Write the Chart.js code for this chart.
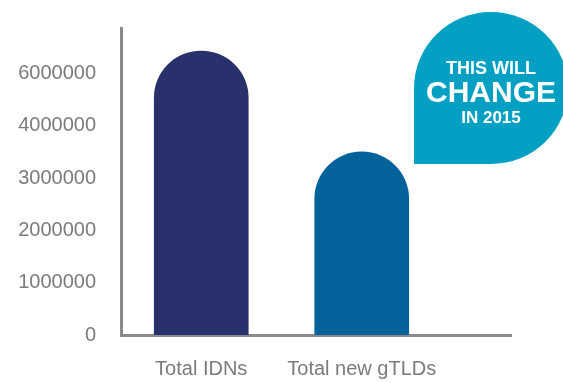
<!DOCTYPE html>
<html>
<head>
<meta charset="utf-8">
<title>IDNs vs new gTLDs</title>
<script src="https://cdn.jsdelivr.net/npm/chart.js@4"></script>
<style>
  html, body { margin: 0; padding: 0; background: #fff; overflow: hidden; }
  #wrap { position: relative; width: 563px; height: 383px; font-family: "Liberation Sans", Arial, Helvetica, sans-serif; }
  #chart { position: absolute; left: 0; top: 0; }
  /* teal speech bubble, pointed corner at bottom left */
  .bubble {
    position: absolute; left: 414px; top: 12px; width: 154px; height: 152px;
    background: #03a0c4; border-radius: 50% 50% 50% 0;
  }
  .bubble-line {
    position: absolute; left: 414px; width: 154px; text-align: center;
    color: #fff; font-weight: bold; white-space: nowrap;
  }
</style>
</head>
<body>
<div id="wrap">
  <canvas id="chart" width="563" height="383"></canvas>
  <div class="bubble"></div>
  <div class="bubble-line" style="top:59px;font-size:18px;line-height:18px;">THIS WILL</div>
  <div class="bubble-line" style="top:77px;font-size:30px;line-height:30px;">CHANGE</div>
  <div class="bubble-line" style="top:109px;font-size:17px;line-height:17px;">IN 2015</div>
</div>
<script>
/* ---------- data ---------- */
const categories = ['Total IDNs', 'Total new gTLDs'];
const totals = [5430000, 3500000];
const barColors = ['#29316d', '#03629a'];
const yTickValues = [0, 1000000, 2000000, 3000000, 4000000, 5000000];
const yTickLabels = ['0', '1000000', '2000000', '3000000', '4000000', '6000000'];

const FONT = '"Liberation Sans", Arial, Helvetica, sans-serif';
const AXIS_GREY = '#8a8a8a';
const LABEL_GREY = '#7b7b7b';

// bars sit on a linear x scale so the axis can run on past the last bar
const points = totals.map((v, i) => ({ x: i, y: v }));

new Chart(document.getElementById('chart').getContext('2d'), {
  type: 'bar',
  data: {
    datasets: [{
      data: points,
      backgroundColor: barColors,
      barThickness: 94,
      borderRadius: 47,
      borderSkipped: 'start'
    }]
  },
  options: {
    responsive: false,
    animation: false,
    layout: { padding: { top: 28, right: 52, bottom: 0, left: 0 } },
    plugins: { legend: { display: false }, tooltip: { enabled: false } },
    scales: {
      x: {
        type: 'linear',
        offset: false,
        min: -0.5,
        max: 1.93,
        afterBuildTicks: s => { s.ticks = categories.map((_, i) => ({ value: i })); },
        afterFit: s => { s.height = 48; s.paddingLeft = 0; s.paddingRight = 0; },
        grid: { display: false, drawTicks: false, tickLength: 0 },
        border: { display: true, color: AXIS_GREY, width: 3 },
        ticks: {
          autoSkip: false,
          maxRotation: 0,
          padding: 22,
          color: LABEL_GREY,
          font: { family: FONT, size: 20 },
          callback: v => categories[v] ?? ''
        }
      },
      y: {
        min: 0,
        max: 5870000,
        afterBuildTicks: s => { s.ticks = yTickValues.map(v => ({ value: v })); },
        afterFit: s => { s.width = 121; s.paddingTop = 0; s.paddingBottom = 0; },
        grid: { display: false, drawTicks: false, tickLength: 0 },
        border: { display: true, color: AXIS_GREY, width: 3 },
        ticks: {
          padding: 25,
          color: LABEL_GREY,
          font: { family: FONT, size: 20 },
          callback: (v, i) => yTickLabels[i]
        }
      }
    }
  }
});
</script>
</body>
</html>
